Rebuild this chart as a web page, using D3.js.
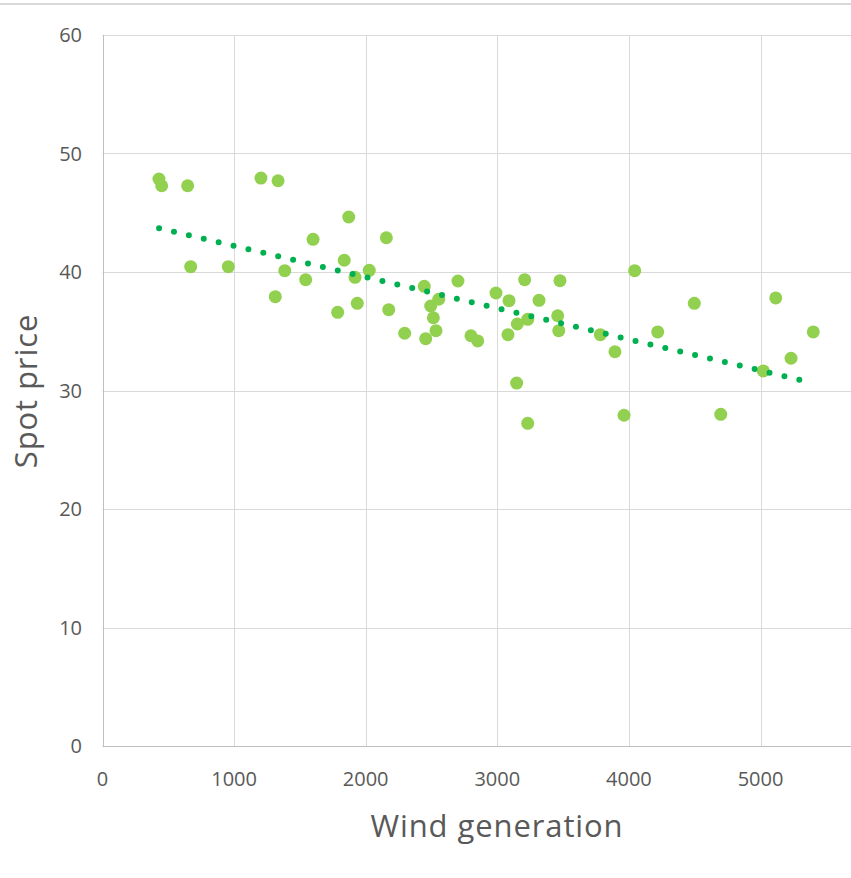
<!DOCTYPE html>
<html><head><meta charset="utf-8">
<script src="https://cdn.jsdelivr.net/npm/d3@7"></script>
<style>
html,body{margin:0;padding:0;background:#fff;overflow:hidden;}
svg{display:block;}
</style></head>
<body>
<script>
const windGeneration = [429,450,647,670,956,1204,1334,1313,1600,1385,1544,1787,1837,1871,1919,1936,2027,2157,2175,2296,2445,2456,2494,2514,2534,2555,2701,2800,2851,2990,3081,3089,3152,3147,3208,3231,3231,3317,3459,3467,3476,3783,3894,3963,4044,4219,4497,4698,5021,5116,5232,5401];
const spotPrice = [47.85,47.28,47.28,40.45,40.45,47.93,47.70,37.92,42.76,40.11,39.35,36.60,40.99,44.64,39.55,37.36,40.14,42.89,36.82,34.83,38.79,34.37,37.13,36.14,35.05,37.70,39.24,34.62,34.18,38.23,34.71,37.58,35.61,30.63,39.35,36.01,27.23,37.61,36.31,35.05,39.27,34.71,33.27,27.91,40.11,34.94,37.36,27.99,31.65,37.81,32.72,34.94];
const trendX = [430, 5300];
const trendY = [43.7, 30.9];
const xTicks = [0,1000,2000,3000,4000,5000,6000];
const yTicks = [0,10,20,30,40,50,60];
const xTitle = "Wind generation";
const yTitle = "Spot price";

const W = 851, H = 878;
const svg = d3.select("body").append("svg").attr("width", W).attr("height", H);

const x = d3.scaleLinear().domain([0, 6000]).range([102.5, 102.5 + 6*131.6]);
const y = d3.scaleLinear().domain([0, 60]).range([746, 35]);

// top border
svg.append("line").attr("x1",0).attr("x2",W).attr("y1",4).attr("y2",4)
  .attr("stroke","#d9d9d9").attr("stroke-width",2);

// gridlines
const g = svg.append("g");
g.selectAll(".hg").data(yTicks.filter(d=>d>0)).join("line")
  .attr("x1", x(0)).attr("x2", x(6000)).attr("y1", d=>Math.round(y(d))+0.5).attr("y2", d=>Math.round(y(d))+0.5)
  .attr("stroke","#d9d9d9").attr("stroke-width",1);
g.selectAll(".vg").data(xTicks.filter(d=>d>0)).join("line")
  .attr("y1", y(0)).attr("y2", y(60)).attr("x1", d=>Math.round(x(d))+0.5).attr("x2", d=>Math.round(x(d))+0.5)
  .attr("stroke","#d9d9d9").attr("stroke-width",1);

// axes lines
svg.append("line").attr("x1", Math.round(x(0))+0.5).attr("x2", Math.round(x(0))+0.5).attr("y1", y(0)).attr("y2", y(60))
  .attr("stroke","#bfbfbf").attr("stroke-width",1);
svg.append("line").attr("x1", x(0)).attr("x2", x(6000)).attr("y1", Math.round(y(0))+0.5).attr("y2", Math.round(y(0))+0.5)
  .attr("stroke","#bfbfbf").attr("stroke-width",1);

// tick labels
const font = "'Open Sans', 'Noto Sans', sans-serif";
svg.append("g").selectAll("text").data(yTicks).join("text")
  .attr("x", 82).attr("y", d=>y(d)).attr("dy","0.36em").attr("text-anchor","end")
  .attr("font-family", font).attr("font-size", 20).attr("fill","#595959").text(d=>d);
svg.append("g").selectAll("text").data(xTicks.filter(d=>d<=5000)).join("text")
  .attr("x", d=>x(d)).attr("y", 786).attr("text-anchor","middle")
  .attr("font-family", font).attr("font-size", 20).attr("fill","#595959").text(d=>d);

// titles
svg.append("text").attr("x", 497).attr("y", 837).attr("text-anchor","middle")
  .attr("font-family", font).attr("font-size", 31).attr("letter-spacing", 0.9).attr("fill","#595959").text(xTitle);
svg.append("text").attr("transform","translate(37,391) rotate(-90)").attr("text-anchor","middle")
  .attr("font-family", font).attr("font-size", 31).attr("letter-spacing", 0.9).attr("fill","#595959").text(yTitle);

// points
const data = windGeneration.map((d,i)=>({x:d, y:spotPrice[i]}));
svg.append("g").selectAll("circle").data(data).join("circle")
  .attr("cx", d=>x(d.x)).attr("cy", d=>y(d.y)).attr("r", 6.5).attr("fill","#92d050");

// trendline (dotted)
svg.append("path")
  .attr("d", d3.line().x(d=>x(d[0])).y(d=>y(d[1]))(trendX.map((d,i)=>[d, trendY[i]])))
  .attr("fill","none").attr("stroke","#00b050").attr("stroke-width",6)
  .attr("stroke-linecap","round").attr("stroke-dasharray","0 15.3");
</script>
</body></html>
